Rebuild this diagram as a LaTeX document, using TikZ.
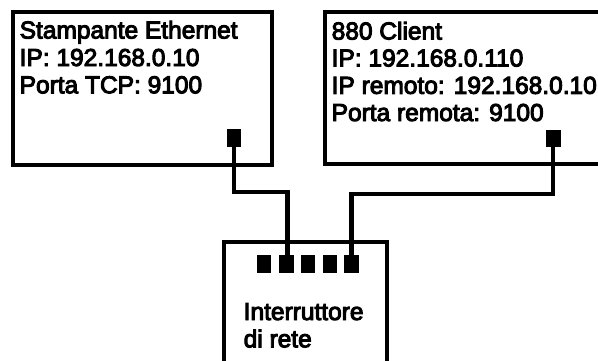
\documentclass[tikz,border=0pt]{standalone}
\usepackage{fontspec}
\usetikzlibrary{calc}
\newfontfamily\medfont[FakeBold=4]{Liberation Sans}
\begin{document}
\begin{tikzpicture}[x=1pt,y=-1pt,
  frame/.style={line width=4pt, line join=miter},
  cable/.style={line width=4.5pt},
  lbl/.style={inner sep=0pt, anchor=base west, font=\medfont\fontsize{24.5}{27}\selectfont},
  port/.style={fill=black, draw=none, inner sep=0pt, minimum width=14.5pt, minimum height=17.7pt},
]
\useasboundingbox (0,0) rectangle (598,360);
% boxes
\draw[frame] (13,12) rectangle (272,165);
\draw[frame] (605,12) -- (324.7,12) -- (324.7,164) -- (605,164);
\draw[frame] (224,365) -- (224,241.5) -- (387,241.5) -- (387,365);
% texts
\node[lbl] (a1) at (19.5,38.5) {Stampante Ethernet};
\node[lbl] (a2) at (19.5,66) {IP: 192.168.0.10};
\node[lbl] (a3) at (19.5,93.3) {Porta TCP: 9100};
\node[lbl] (b1) at (331.5,39.5) {880 Client};
\node[lbl] (b2) at (331.5,66.5) {IP: 192.168.0.110};
\node[lbl] (b3) at (331.5,93.8) {IP remoto: 192.168.0.10};
\node[lbl] (b4) at (331.5,121) {Porta remota: 9100};
\node[lbl] (c1) at (243.5,320) {Interruttore};
\node[lbl] (c2) at (243.5,347.3) {di rete};
% ports
\node[port, minimum width=14pt, minimum height=18pt] (p1) at (234,138) {};
\node[port, minimum width=15pt, minimum height=17pt] (p2) at (553,138.3) {};
\foreach \i/\x in {1/264,2/286.3,3/308,4/330,5/351.7}
  \node[port] (s\i) at (\x,263.8) {};
% cable bend levels
\coordinate (k1) at (0,192);
\coordinate (k2) at (0,194);
% cables
\draw[cable] (p1.south) |- ($(s2.north |- k1)+(1.2,0)$) -- ($(s2.north)+(1.2,0)$);
\draw[cable] (p2.south) |- (s5.north |- k2) -- (s5.north);
\end{tikzpicture}
\end{document}
